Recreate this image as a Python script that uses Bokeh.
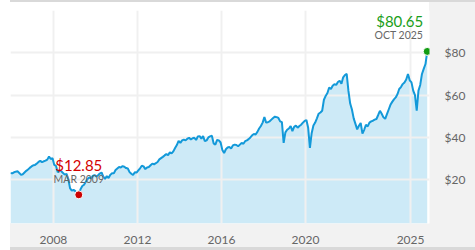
import numpy as np
import pandas as pd
from bokeh.plotting import figure
from bokeh.models import Range1d, FixedTicker, NumeralTickFormatter
from bokeh.core.properties import value
from bokeh.embed import file_html
from bokeh.resources import INLINE

# ---- data (monthly closes) ----
start_month = "2005-12"
end_month = "2025-10"
prices = [
    23.2,
    23.0, 23.5, 23.8, 24.0, 23.2, 22.3, 22.6, 23.4, 24.2, 24.8, 25.6, 26.3,   # 2006
    26.8, 27.0, 27.6, 28.4, 28.9, 28.3, 28.7, 29.0, 29.5, 31.0, 29.8, 30.2,   # 2007
    27.0, 26.5, 23.5, 24.6, 24.0, 23.2, 22.4, 22.8, 20.3, 16.0, 14.8, 15.2,   # 2008
    14.6, 13.4, 12.85, 15.5, 17.0, 17.6, 19.0, 20.3, 21.1, 20.6, 21.8, 22.2,  # 2009
    21.6, 22.1, 22.9, 23.4, 21.5, 20.4, 21.7, 20.8, 22.3, 23.1, 23.0, 24.6,   # 2010
    25.3, 26.0, 25.8, 26.4, 26.1, 25.5, 25.3, 23.6, 22.8, 22.2, 23.5, 23.4,   # 2011
    24.4, 25.4, 26.6, 26.3, 25.0, 25.8, 26.0, 26.8, 27.6, 27.3, 27.8, 28.4,   # 2012
    29.6, 30.2, 30.8, 31.5, 32.1, 31.6, 33.0, 32.4, 33.4, 35.0, 36.4, 38.4,   # 2013
    37.4, 38.6, 39.0, 38.6, 39.4, 39.8, 39.0, 39.6, 39.8, 38.8, 40.4, 40.6,   # 2014
    39.4, 40.6, 38.2, 38.6, 40.0, 40.5, 40.8, 37.2, 36.6, 38.8, 38.6, 37.6,   # 2015
    34.0, 32.6, 34.4, 35.2, 35.5, 34.8, 36.2, 36.6, 36.4, 35.8, 36.6, 37.4,   # 2016
    37.0, 38.2, 38.6, 39.2, 40.0, 41.0, 41.6, 41.4, 42.6, 44.2, 45.4, 47.0,   # 2017
    49.6, 47.0, 47.2, 47.6, 48.4, 49.2, 49.8, 49.6, 49.2, 47.6, 47.2, 37.4,   # 2018
    42.4, 43.6, 44.2, 45.4, 43.0, 45.0, 45.6, 44.6, 45.4, 46.0, 47.0, 47.8,   # 2019
    48.2, 44.6, 35.0, 42.0, 45.6, 47.0, 49.0, 51.2, 51.8, 52.6, 57.8, 59.6,   # 2020
    61.0, 63.6, 62.9, 64.4, 65.2, 64.8, 66.2, 66.8, 65.4, 68.4, 69.5, 70.0,   # 2021
    62.0, 56.0, 53.2, 49.0, 46.4, 43.8, 45.5, 46.8, 41.8, 43.6, 46.0, 45.2,   # 2022
    47.0, 47.6, 47.9, 48.4, 48.7, 50.6, 52.6, 51.2, 49.5, 48.8, 51.0, 53.2,   # 2023
    55.4, 56.8, 58.0, 58.9, 60.4, 62.9, 63.8, 65.2, 66.0, 67.4, 70.0, 67.0,   # 2024
    66.0, 62.1, 60.0, 52.6, 62.1, 64.8, 70.0, 72.4, 74.7, 80.65,              # 2025
]
x_ticks = [2008, 2012, 2016, 2020, 2025]
y_ticks = [20, 40, 60, 80]

periods = pd.period_range(start_month, end_month, freq="M")
t = np.array([pp.year + (pp.month - 0.5) / 12 for pp in periods])
v = np.array(prices)

i_min = int(np.argmin(v))
i_max = int(np.argmax(v))
def lbl(pp):
    return pp.strftime("%b %Y").upper()

Y0 = -0.7
bg_css = {
    "background-color": "white",
    "background-image": ", ".join(["linear-gradient(#d9d9d9,#d9d9d9)"] * 2 +
                                   ["linear-gradient(#f2f2f2,#f2f2f2)"] * 2),
    "background-position": "10px 0px, 10px 247px, 429px 2px, 10px 223px",
    "background-size": "465px 2px, 465px 3px, 46px 245px, 465px 24px",
    "background-repeat": "no-repeat",
}

p = figure(width=475, height=250, output_backend="svg", toolbar_location=None,
           x_range=Range1d(t[0], 2025.9), y_range=Range1d(Y0, 100),
           y_axis_location="right",
           min_border_left=10, min_border_top=10, min_border_right=46, min_border_bottom=27,
           background_fill_color="white", border_fill_alpha=0,
           outline_line_color=None, styles=bg_css)

for ax in (p.xaxis[0], p.yaxis[0]):
    ax.axis_line_color = None
    ax.major_tick_line_color = None
    ax.minor_tick_line_color = None
    ax.major_label_text_font = "Lato"
    ax.major_label_text_font_size = "12px"
    ax.major_label_text_color = "#666666"
p.xaxis.ticker = FixedTicker(ticks=x_ticks)
p.xaxis.formatter = NumeralTickFormatter(format="0")
p.xaxis.major_label_standoff = 6
p.yaxis.ticker = FixedTicker(ticks=y_ticks)
p.yaxis.formatter = NumeralTickFormatter(format="$0")
p.yaxis.major_label_standoff = 9

p.xgrid.ticker = FixedTicker(ticks=x_ticks)
p.ygrid.ticker = FixedTicker(ticks=y_ticks)
for g in (p.xgrid[0], p.ygrid[0]):
    g.grid_line_color = "#f0f0f0"
    g.grid_line_width = 2

p.varea(x=t, y1=Y0, y2=v, fill_color="#cdeaf7", level="image")
p.line(t, v, line_color="#1399d9", line_width=2)

# min marker
p.scatter([t[i_min]], [v[i_min]], size=8, fill_color="#cc0000", line_color="white", line_width=1)
p.text([t[i_min]], [v[i_min]], text=[f"${v[i_min]:.2f}"], text_font=value("Lato"),
       text_font_size="15px", text_color="#d40000", text_align="center",
       text_baseline="middle", y_offset=-30)
p.text([t[i_min]], [v[i_min]], text=[lbl(periods[i_min])], text_font=value("Lato"),
       text_font_size="10.5px", text_color="#666666", text_align="center",
       text_baseline="middle", y_offset=-16)

# max marker
p.scatter([t[i_max]], [v[i_max]], size=8, fill_color="#129c12", line_color="white", line_width=1)
p.text([t[i_max]], [v[i_max]], text=[f"${v[i_max]:.2f}"], text_font=value("Lato"),
       text_font_size="15px", text_color="#1a9e1a", text_align="right",
       text_baseline="middle", x_offset=-4, y_offset=-30)
p.text([t[i_max]], [v[i_max]], text=[lbl(periods[i_max])], text_font=value("Lato"),
       text_font_size="10.5px", text_color="#666666", text_align="right",
       text_baseline="middle", x_offset=-4, y_offset=-16)

open("out.html", "w").write(file_html(p, INLINE))
